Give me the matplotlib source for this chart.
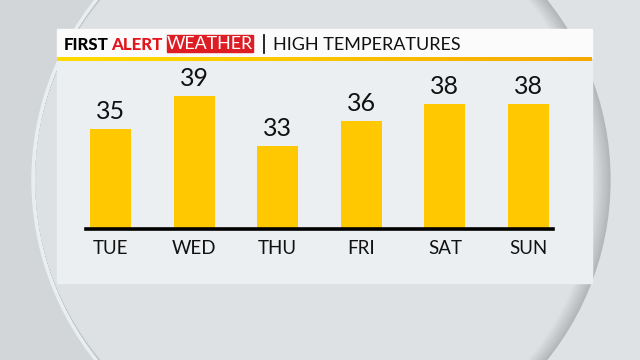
import numpy as np
import matplotlib
matplotlib.use("Agg")
import matplotlib.pyplot as plt
from matplotlib.patches import Circle, Rectangle

days = ["TUE", "WED", "THU", "FRI", "SAT", "SUN"]
highs = [35, 39, 33, 36, 38, 38]

BAR = "#ffc800"
plt.rcParams["font.family"] = ["Lato", "DejaVu Sans"]

fig = plt.figure(figsize=(6.4, 3.6), dpi=100)

# background layer in pixel coords
bg = fig.add_axes([0, 0, 1, 1], zorder=0)
bg.set_xlim(0, 640)
bg.set_ylim(360, 0)
bg.axis("off")
bg.add_patch(Rectangle((0, 0), 640, 360, color="#d3d6d8"))
bg.add_patch(Rectangle((320, 0), 320, 360, color="#dee2e4"))
# light rim on the left
bg.add_patch(Circle((321, 180), 289, color="#e9eef1"))
# shaded rim on the right, fading inwards
shade = matplotlib.colors.LinearSegmentedColormap.from_list("sh", ["#b4b7ba", "#dde1e3"])
n = 12
for k in range(n + 1):
    bg.add_patch(Circle((323 - k * 0.7, 180), 287 - k * 0.7, color=shade(k / n)))

# panel
bg.add_patch(Rectangle((57, 61), 535, 222, color="#eceff1"))
bg.add_patch(Rectangle((57, 29), 535, 29, color="#fbfbfb"))
grad = np.linspace(0, 1, 256).reshape(1, -1)
cmap = matplotlib.colors.LinearSegmentedColormap.from_list("hdr", ["#ffdc00", "#fbc400", "#f6a800"])
bg.imshow(grad, extent=(57, 592, 61.5, 57.5), aspect="auto", cmap=cmap, zorder=2)
bg.set_xlim(0, 640)
bg.set_ylim(360, 0)

bg.text(64, 44.5, "FIRST", fontsize=12.2, fontweight="black", color="black", va="center", ha="left")
bg.text(111, 44.5, "ALERT", fontsize=12.2, fontweight="black", color="#e3141b", va="center", ha="left")
bg.add_patch(Rectangle((166.5, 35), 86.5, 16.5, color="#de1c24"))
bg.text(210, 44, "WEATHER", fontsize=12.8, color="white", va="center", ha="center")
bg.plot([263.5, 263.5], [35, 53], color="black", lw=1.2)
bg.text(273, 44.5, "HIGH TEMPERATURES", fontsize=13, color="#111111", va="center", ha="left")

# bar chart
x0, x1, ybase, ytop = 86, 553, 229, 60
ax = fig.add_axes([x0 / 640, (360 - ybase) / 360, (x1 - x0) / 640, (ybase - ytop) / 360], zorder=1)
ax.patch.set_alpha(0)
pos = np.arange(len(days))
ax.bar(pos, highs, width=0.49, bottom=0, color=BAR)
ax.set_xlim(-0.293, 5.293)
ax.set_ylim(23, 23 + (ybase - ytop) / 8.33)
for s in ["top", "right", "left"]:
    ax.spines[s].set_visible(False)
ax.spines["bottom"].set_linewidth(2.6)
ax.spines["bottom"].set_color("black")
ax.set_yticks([])
ax.set_xticks(pos)
ax.set_xticklabels(days, fontsize=13.5, color="#111111")
ax.tick_params(axis="x", length=0, pad=8)
for p, v in zip(pos, highs):
    ax.annotate(str(v), (p, v), xytext=(0, 4), textcoords="offset points",
                ha="center", va="bottom", fontsize=18, color="#111111")

fig.savefig("out.png", dpi=100)
